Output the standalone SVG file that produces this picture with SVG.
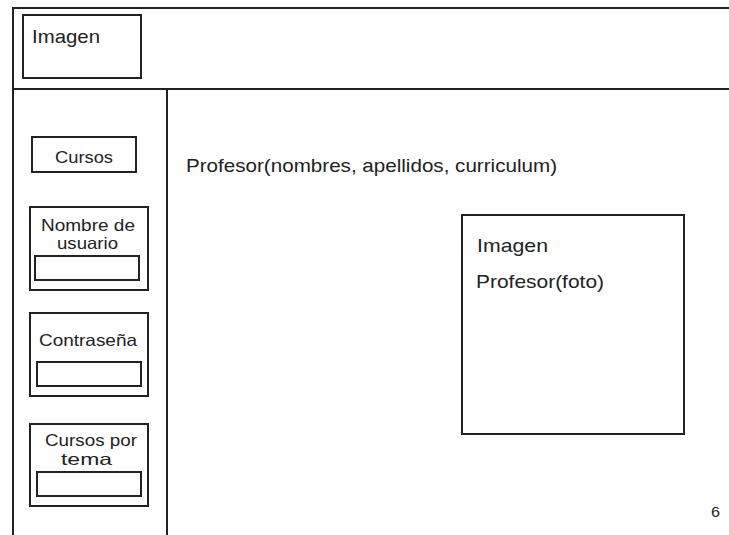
<svg xmlns="http://www.w3.org/2000/svg" width="729" height="535" viewBox="0 0 729 535">
<style>
.ln{fill:none;stroke:#222;stroke-width:2}
.t{font-family:"Liberation Sans",Arial,sans-serif;fill:#222;font-size:19px}
.s{font-size:16.5px}
</style>
<rect width="729" height="535" fill="#fff"/>
<g id="frame">
<path class="ln" d="M13 535V8H740M13 89H740M167 89V540"/>
</g>
<g id="header-imagen">
<rect class="ln" x="23" y="15" width="118" height="63"/>
<text class="t" x="32" y="43" textLength="68" lengthAdjust="spacingAndGlyphs">Imagen</text>
</g>
<g id="cursos">
<rect class="ln" x="32" y="137" width="104" height="35"/>
<text class="t s" x="55" y="163" textLength="58" lengthAdjust="spacingAndGlyphs">Cursos</text>
</g>
<g id="nombre-usuario">
<rect class="ln" x="30" y="207" width="118" height="83"/>
<text class="t s" x="41" y="231" textLength="94" lengthAdjust="spacingAndGlyphs">Nombre de</text>
<text class="t s" x="57" y="249" textLength="61" lengthAdjust="spacingAndGlyphs">usuario</text>
<rect class="ln" x="35" y="256" width="104" height="24"/>
</g>
<g id="contrasena">
<rect class="ln" x="30" y="313" width="118" height="83"/>
<text class="t s" x="39" y="346" textLength="98" lengthAdjust="spacingAndGlyphs">Contraseña</text>
<rect class="ln" x="37" y="362" width="104" height="24"/>
</g>
<g id="cursos-tema">
<rect class="ln" x="30" y="424" width="118" height="82"/>
<text class="t s" x="45" y="446" textLength="92" lengthAdjust="spacingAndGlyphs">Cursos por</text>
<text class="t s" x="61" y="465" textLength="51" lengthAdjust="spacingAndGlyphs">tema</text>
<rect class="ln" x="37" y="472" width="104" height="24"/>
</g>
<g id="profesor-datos">
<text class="t" x="186" y="172" textLength="371" lengthAdjust="spacingAndGlyphs">Profesor(nombres, apellidos, curriculum)</text>
</g>
<g id="profesor-foto">
<rect class="ln" x="462" y="215" width="222" height="219"/>
<text class="t" x="477" y="252" textLength="71" lengthAdjust="spacingAndGlyphs">Imagen</text>
<text class="t" x="476" y="288" textLength="128" lengthAdjust="spacingAndGlyphs">Profesor(foto)</text>
</g>
<g id="page">
<text class="t" x="711" y="517" textLength="9" lengthAdjust="spacingAndGlyphs" style="font-size:15px">6</text>
</g>
</svg>
